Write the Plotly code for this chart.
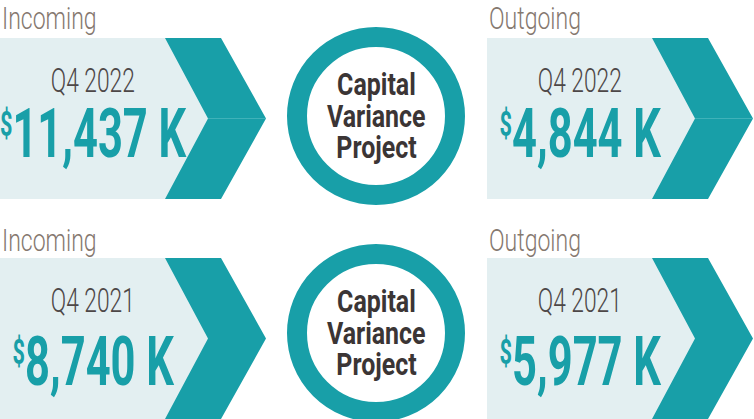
import json
import plotly.graph_objects as go

# ---------------- data ----------------
periods = ["Q4 2022", "Q4 2021"]
incoming_k = [11437, 8740]
outgoing_k = [4844, 5977]
flow_labels = ["Incoming", "Outgoing"]
center_label = ["Capital", "Variance", "Project"]

# ---------------- style ----------------
W, H = 754, 419
TEAL = "#189fa8"
LIGHT = "#e3eff1"
LABEL_C = "#85786f"
PERIOD_C = "#4d4747"
CENTER_C = "#3b3535"
FONT = "Roboto, Liberation Sans, DejaVu Sans, sans-serif"

# layout geometry (pixel-like coordinates, y pointing down)
row_tops = [38, 258]
row_h = 161
panel_x0 = [0, 487]
label_dy = [-20, -18]
period_dy = [41.5, 42]
value_dy = [95.4, 103.4]
circle_cx = 376
circle_cy = [116, 333]
circle_r = 79
ring_w = 20
word_dy = [-32, 0, 31]
seam_rows = [True, False]

LABEL_SIZE, PERIOD_SIZE, VALUE_SIZE, WORD_SIZE = 32, 34, 69, 32

fig = go.Figure()
shapes = []
ann = []
specs = []  # per-annotation horizontal condensing (no condensed font face installed)

for r, period in enumerate(periods):
    top = row_tops[r]
    bot = top + row_h
    mid = top + row_h / 2
    values = [incoming_k[r], outgoing_k[r]]
    for c, x0 in enumerate(panel_x0):
        shapes.append(dict(type="rect", x0=x0, x1=x0 + 209, y0=top, y1=bot,
                           fillcolor=LIGHT, line_width=0, layer="below"))
        p = (f"M {x0+165},{top} L {x0+221},{top} L {x0+266},{mid} "
             f"L {x0+221},{bot} L {x0+165},{bot} L {x0+208},{mid} Z")
        shapes.append(dict(type="path", path=p, fillcolor=TEAL, line_width=0,
                           layer="below"))
        if seam_rows[r]:
            shapes.append(dict(type="line", x0=x0 + 208, x1=x0 + 266, y0=mid, y1=mid,
                               line=dict(color="#3fb2b9", width=1), layer="below"))
        ann.append(dict(x=x0, y=top + label_dy[r], text=flow_labels[c], xanchor="left",
                        yanchor="middle", showarrow=False,
                        font=dict(family=FONT, size=LABEL_SIZE, color=LABEL_C, weight=300)))
        specs.append(dict(sx=0.72, pivot="l"))
        ann.append(dict(x=x0 + 93, y=top + period_dy[r], text=period, xanchor="center",
                        yanchor="middle", showarrow=False,
                        font=dict(family=FONT, size=PERIOD_SIZE, color=PERIOD_C, weight=300)))
        specs.append(dict(sx=0.67, pivot="c"))
        ann.append(dict(x=x0 + 93, y=top + value_dy[r],
                        text=(f"<span style='font-size:50%'>$</span>"
                              f"<span style='font-size:100%'>{values[c]:,} K</span>"),
                        xanchor="center", yanchor="middle", showarrow=False,
                        font=dict(family=FONT, size=VALUE_SIZE, color=TEAL, weight="bold")))
        specs.append(dict(sx=0.63, pivot="c", raise_px=VALUE_SIZE * 0.3))

    cy = circle_cy[r]
    shapes.append(dict(type="circle", x0=circle_cx - circle_r, x1=circle_cx + circle_r,
                       y0=cy - circle_r, y1=cy + circle_r, fillcolor="white",
                       line=dict(color=TEAL, width=ring_w), layer="below"))
    for i, word in enumerate(center_label):
        ann.append(dict(x=circle_cx, y=cy + word_dy[i], text=word,
                        xanchor="center", yanchor="middle", showarrow=False,
                        font=dict(family=FONT, size=WORD_SIZE, color=CENTER_C, weight="bold")))
        specs.append(dict(sx=0.78, pivot="c"))

fig.update_layout(
    width=W, height=H,
    margin=dict(l=0, r=0, t=0, b=0),
    paper_bgcolor="white", plot_bgcolor="white",
    xaxis=dict(range=[0, W], visible=False, fixedrange=True),
    yaxis=dict(range=[H, 0], visible=False, fixedrange=True),
    shapes=shapes, annotations=ann, showlegend=False,
)

post = """
document.body.style.margin = '0';
var gd = document.getElementById('{plot_id}');
var specs = SPECS;
gd.querySelectorAll('g.annotation').forEach(function(g){
  var s = specs[+g.getAttribute('data-index')];
  var t = g.querySelector('text.annotation-text');
  if (!s || !t) return;
  if (s.raise_px) {
    var ts = t.querySelectorAll('tspan');
    if (ts.length >= 2) {
      ts[0].setAttribute('dy', (-s.raise_px) + 'px');
      ts[1].setAttribute('dy', s.raise_px + 'px');
    }
  }
  var b = t.getBBox();
  var px = s.pivot === 'l' ? b.x : b.x + b.width / 2;
  var tr = t.getAttribute('transform') || '';
  t.setAttribute('transform', tr + ' translate(' + px + ',0) scale(' + s.sx + ',1) translate(' + (-px) + ',0)');
});
""".replace("SPECS", json.dumps(specs))

fig.write_html("out.html", config={"displayModeBar": False}, post_script=post)
